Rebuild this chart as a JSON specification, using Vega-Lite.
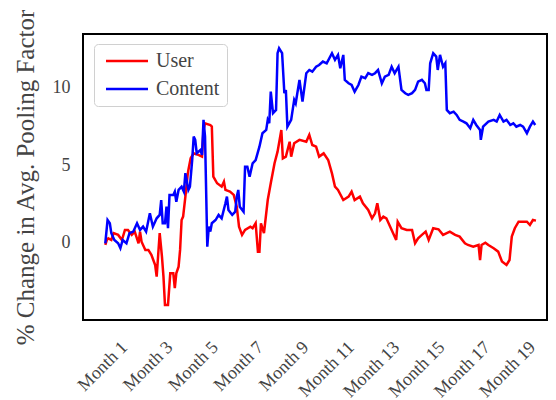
{
  "$schema": "https://vega.github.io/schema/vega-lite/v6.json",
  "width": 464,
  "height": 286,
  "autosize": {"type": "none"},
  "padding": {"left": 83, "top": 34, "right": 9, "bottom": 80},
  "config": {
    "view": {"stroke": "#000000", "strokeWidth": 2},
    "font": "Liberation Serif",
    "axis": {"labelFont": "Liberation Serif", "titleFont": "Liberation Serif", "labelColor": "#444444", "titleColor": "#444444", "grid": false, "ticks": false, "domain": false},
    "legend": {"labelFont": "Liberation Serif"}
  },
  "data": {"values": [
    {"d":0,"v":-0.13,"s":"User"},{"d":2,"v":0.19,"s":"User"},{"d":4,"v":0.30,"s":"User"},{"d":8,"v":0.19,"s":"User"},{"d":11,"v":0.63,"s":"User"},{"d":17,"v":0.52,"s":"User"},{"d":22,"v":0.19,"s":"User"},{"d":26,"v":0.84,"s":"User"},{"d":30,"v":0.84,"s":"User"},{"d":35,"v":0.52,"s":"User"},{"d":39,"v":0.73,"s":"User"},{"d":44,"v":-0.02,"s":"User"},{"d":46,"v":0.73,"s":"User"},{"d":48,"v":0.08,"s":"User"},{"d":53,"v":-0.45,"s":"User"},{"d":57,"v":-0.45,"s":"User"},{"d":61,"v":-0.77,"s":"User"},{"d":66,"v":-1.42,"s":"User"},{"d":68,"v":-2.17,"s":"User"},{"d":72,"v":0.63,"s":"User"},{"d":75,"v":-0.88,"s":"User"},{"d":77,"v":-2.17,"s":"User"},{"d":79,"v":-4.0,"s":"User"},{"d":83,"v":-4.0,"s":"User"},{"d":86,"v":-1.96,"s":"User"},{"d":90,"v":-1.96,"s":"User"},{"d":92,"v":-2.92,"s":"User"},{"d":94,"v":-1.96,"s":"User"},{"d":97,"v":-1.53,"s":"User"},{"d":99,"v":-0.45,"s":"User"},{"d":101,"v":1.48,"s":"User"},{"d":103,"v":1.70,"s":"User"},{"d":106,"v":2.99,"s":"User"},{"d":109,"v":4.39,"s":"User"},{"d":110,"v":4.71,"s":"User"},{"d":113,"v":5.46,"s":"User"},{"d":117,"v":5.78,"s":"User"},{"d":124,"v":5.67,"s":"User"},{"d":128,"v":5.57,"s":"User"},{"d":130,"v":7.29,"s":"User"},{"d":132,"v":7.72,"s":"User"},{"d":139,"v":7.61,"s":"User"},{"d":141,"v":7.51,"s":"User"},{"d":143,"v":4.28,"s":"User"},{"d":148,"v":3.85,"s":"User"},{"d":154,"v":3.63,"s":"User"},{"d":157,"v":3.95,"s":"User"},{"d":159,"v":3.42,"s":"User"},{"d":165,"v":3.31,"s":"User"},{"d":170,"v":3.10,"s":"User"},{"d":174,"v":2.34,"s":"User"},{"d":177,"v":1.05,"s":"User"},{"d":181,"v":0.52,"s":"User"},{"d":185,"v":0.84,"s":"User"},{"d":192,"v":1.05,"s":"User"},{"d":195,"v":0.95,"s":"User"},{"d":199,"v":1.27,"s":"User"},{"d":202,"v":-0.56,"s":"User"},{"d":204,"v":-0.56,"s":"User"},{"d":206,"v":1.27,"s":"User"},{"d":210,"v":0.63,"s":"User"},{"d":215,"v":2.77,"s":"User"},{"d":219,"v":3.85,"s":"User"},{"d":224,"v":5.14,"s":"User"},{"d":228,"v":5.89,"s":"User"},{"d":233,"v":7.29,"s":"User"},{"d":235,"v":5.46,"s":"User"},{"d":239,"v":5.57,"s":"User"},{"d":244,"v":6.53,"s":"User"},{"d":246,"v":5.57,"s":"User"},{"d":250,"v":6.43,"s":"User"},{"d":257,"v":6.65,"s":"User"},{"d":266,"v":6.53,"s":"User"},{"d":270,"v":6.97,"s":"User"},{"d":274,"v":6.32,"s":"User"},{"d":279,"v":6.21,"s":"User"},{"d":283,"v":5.57,"s":"User"},{"d":289,"v":5.78,"s":"User"},{"d":295,"v":5.35,"s":"User"},{"d":300,"v":4.49,"s":"User"},{"d":304,"v":3.63,"s":"User"},{"d":308,"v":3.42,"s":"User"},{"d":315,"v":2.77,"s":"User"},{"d":322,"v":2.99,"s":"User"},{"d":326,"v":3.31,"s":"User"},{"d":330,"v":2.77,"s":"User"},{"d":337,"v":2.99,"s":"User"},{"d":341,"v":2.56,"s":"User"},{"d":348,"v":2.13,"s":"User"},{"d":353,"v":1.59,"s":"User"},{"d":357,"v":1.91,"s":"User"},{"d":360,"v":2.56,"s":"User"},{"d":364,"v":1.48,"s":"User"},{"d":368,"v":1.70,"s":"User"},{"d":372,"v":1.59,"s":"User"},{"d":379,"v":0.84,"s":"User"},{"d":385,"v":0.19,"s":"User"},{"d":387,"v":1.37,"s":"User"},{"d":392,"v":0.95,"s":"User"},{"d":399,"v":0.84,"s":"User"},{"d":406,"v":0.84,"s":"User"},{"d":410,"v":-0.02,"s":"User"},{"d":414,"v":0.30,"s":"User"},{"d":419,"v":0.52,"s":"User"},{"d":424,"v":0.73,"s":"User"},{"d":428,"v":0.19,"s":"User"},{"d":434,"v":0.95,"s":"User"},{"d":441,"v":0.88,"s":"User"},{"d":447,"v":0.52,"s":"User"},{"d":456,"v":0.73,"s":"User"},{"d":463,"v":0.52,"s":"User"},{"d":469,"v":0.41,"s":"User"},{"d":476,"v":-0.02,"s":"User"},{"d":480,"v":-0.13,"s":"User"},{"d":487,"v":-0.24,"s":"User"},{"d":494,"v":-0.13,"s":"User"},{"d":496,"v":-1.10,"s":"User"},{"d":498,"v":-0.13,"s":"User"},{"d":503,"v":0.02,"s":"User"},{"d":507,"v":-0.13,"s":"User"},{"d":514,"v":-0.34,"s":"User"},{"d":520,"v":-0.56,"s":"User"},{"d":525,"v":-1.20,"s":"User"},{"d":531,"v":-1.42,"s":"User"},{"d":535,"v":-1.10,"s":"User"},{"d":538,"v":0.41,"s":"User"},{"d":542,"v":0.95,"s":"User"},{"d":547,"v":1.37,"s":"User"},{"d":551,"v":1.37,"s":"User"},{"d":558,"v":1.37,"s":"User"},{"d":562,"v":1.16,"s":"User"},{"d":566,"v":1.48,"s":"User"},{"d":570,"v":1.44,"s":"User"},
    {"d":0,"v":-0.02,"s":"Content"},{"d":3,"v":1.48,"s":"Content"},{"d":6,"v":1.27,"s":"Content"},{"d":8,"v":0.63,"s":"Content"},{"d":12,"v":0.19,"s":"Content"},{"d":17,"v":-0.02,"s":"Content"},{"d":20,"v":-0.34,"s":"Content"},{"d":23,"v":0.19,"s":"Content"},{"d":28,"v":-0.02,"s":"Content"},{"d":32,"v":0.63,"s":"Content"},{"d":37,"v":0.73,"s":"Content"},{"d":42,"v":1.27,"s":"Content"},{"d":46,"v":0.84,"s":"Content"},{"d":50,"v":1.05,"s":"Content"},{"d":54,"v":0.73,"s":"Content"},{"d":59,"v":1.92,"s":"Content"},{"d":63,"v":1.05,"s":"Content"},{"d":68,"v":1.59,"s":"Content"},{"d":72,"v":1.81,"s":"Content"},{"d":74,"v":2.77,"s":"Content"},{"d":76,"v":1.27,"s":"Content"},{"d":79,"v":1.27,"s":"Content"},{"d":81,"v":2.34,"s":"Content"},{"d":83,"v":0.95,"s":"Content"},{"d":85,"v":3.10,"s":"Content"},{"d":90,"v":3.10,"s":"Content"},{"d":92,"v":3.31,"s":"Content"},{"d":94,"v":2.66,"s":"Content"},{"d":97,"v":3.42,"s":"Content"},{"d":101,"v":3.63,"s":"Content"},{"d":104,"v":3.31,"s":"Content"},{"d":106,"v":4.50,"s":"Content"},{"d":110,"v":3.42,"s":"Content"},{"d":112,"v":3.63,"s":"Content"},{"d":115,"v":5.35,"s":"Content"},{"d":117,"v":6.86,"s":"Content"},{"d":119,"v":6.65,"s":"Content"},{"d":121,"v":5.79,"s":"Content"},{"d":126,"v":6.00,"s":"Content"},{"d":128,"v":5.68,"s":"Content"},{"d":130,"v":7.94,"s":"Content"},{"d":132,"v":6.86,"s":"Content"},{"d":135,"v":-0.24,"s":"Content"},{"d":137,"v":1.05,"s":"Content"},{"d":139,"v":0.73,"s":"Content"},{"d":141,"v":1.27,"s":"Content"},{"d":146,"v":1.48,"s":"Content"},{"d":150,"v":1.81,"s":"Content"},{"d":154,"v":1.59,"s":"Content"},{"d":159,"v":2.56,"s":"Content"},{"d":161,"v":2.99,"s":"Content"},{"d":163,"v":2.13,"s":"Content"},{"d":168,"v":1.81,"s":"Content"},{"d":172,"v":2.02,"s":"Content"},{"d":174,"v":2.99,"s":"Content"},{"d":176,"v":3.42,"s":"Content"},{"d":178,"v":2.34,"s":"Content"},{"d":183,"v":2.02,"s":"Content"},{"d":185,"v":4.92,"s":"Content"},{"d":188,"v":4.92,"s":"Content"},{"d":191,"v":4.28,"s":"Content"},{"d":195,"v":5.14,"s":"Content"},{"d":199,"v":5.35,"s":"Content"},{"d":204,"v":6.21,"s":"Content"},{"d":208,"v":7.08,"s":"Content"},{"d":213,"v":7.29,"s":"Content"},{"d":215,"v":7.94,"s":"Content"},{"d":217,"v":7.72,"s":"Content"},{"d":219,"v":9.76,"s":"Content"},{"d":222,"v":8.37,"s":"Content"},{"d":226,"v":8.58,"s":"Content"},{"d":228,"v":12.24,"s":"Content"},{"d":230,"v":12.56,"s":"Content"},{"d":234,"v":12.24,"s":"Content"},{"d":237,"v":9.66,"s":"Content"},{"d":239,"v":9.87,"s":"Content"},{"d":241,"v":7.50,"s":"Content"},{"d":246,"v":7.94,"s":"Content"},{"d":250,"v":9.23,"s":"Content"},{"d":252,"v":9.01,"s":"Content"},{"d":257,"v":10.52,"s":"Content"},{"d":261,"v":9.12,"s":"Content"},{"d":266,"v":10.95,"s":"Content"},{"d":270,"v":11.16,"s":"Content"},{"d":274,"v":11.05,"s":"Content"},{"d":279,"v":11.37,"s":"Content"},{"d":283,"v":11.48,"s":"Content"},{"d":288,"v":11.70,"s":"Content"},{"d":293,"v":11.59,"s":"Content"},{"d":300,"v":12.24,"s":"Content"},{"d":304,"v":11.81,"s":"Content"},{"d":308,"v":12.13,"s":"Content"},{"d":311,"v":11.27,"s":"Content"},{"d":315,"v":12.13,"s":"Content"},{"d":317,"v":10.52,"s":"Content"},{"d":322,"v":10.30,"s":"Content"},{"d":326,"v":10.19,"s":"Content"},{"d":330,"v":9.76,"s":"Content"},{"d":335,"v":10.19,"s":"Content"},{"d":339,"v":10.73,"s":"Content"},{"d":344,"v":10.63,"s":"Content"},{"d":348,"v":10.95,"s":"Content"},{"d":353,"v":10.84,"s":"Content"},{"d":357,"v":10.95,"s":"Content"},{"d":361,"v":11.16,"s":"Content"},{"d":366,"v":10.30,"s":"Content"},{"d":370,"v":10.73,"s":"Content"},{"d":375,"v":10.84,"s":"Content"},{"d":379,"v":11.37,"s":"Content"},{"d":383,"v":10.95,"s":"Content"},{"d":388,"v":11.37,"s":"Content"},{"d":392,"v":9.87,"s":"Content"},{"d":397,"v":9.66,"s":"Content"},{"d":401,"v":9.55,"s":"Content"},{"d":406,"v":9.66,"s":"Content"},{"d":410,"v":9.87,"s":"Content"},{"d":414,"v":10.41,"s":"Content"},{"d":419,"v":10.52,"s":"Content"},{"d":423,"v":10.30,"s":"Content"},{"d":425,"v":9.87,"s":"Content"},{"d":428,"v":9.87,"s":"Content"},{"d":430,"v":11.59,"s":"Content"},{"d":434,"v":12.24,"s":"Content"},{"d":438,"v":12.02,"s":"Content"},{"d":440,"v":11.16,"s":"Content"},{"d":443,"v":12.13,"s":"Content"},{"d":447,"v":11.37,"s":"Content"},{"d":450,"v":11.59,"s":"Content"},{"d":452,"v":8.58,"s":"Content"},{"d":456,"v":8.37,"s":"Content"},{"d":461,"v":8.47,"s":"Content"},{"d":465,"v":8.26,"s":"Content"},{"d":469,"v":7.94,"s":"Content"},{"d":474,"v":7.83,"s":"Content"},{"d":478,"v":7.72,"s":"Content"},{"d":483,"v":7.40,"s":"Content"},{"d":487,"v":7.94,"s":"Content"},{"d":491,"v":7.61,"s":"Content"},{"d":496,"v":7.29,"s":"Content"},{"d":497,"v":6.65,"s":"Content"},{"d":500,"v":7.50,"s":"Content"},{"d":507,"v":7.83,"s":"Content"},{"d":514,"v":7.94,"s":"Content"},{"d":518,"v":7.83,"s":"Content"},{"d":522,"v":8.26,"s":"Content"},{"d":527,"v":7.83,"s":"Content"},{"d":531,"v":7.94,"s":"Content"},{"d":536,"v":7.61,"s":"Content"},{"d":540,"v":7.72,"s":"Content"},{"d":544,"v":7.50,"s":"Content"},{"d":549,"v":7.61,"s":"Content"},{"d":553,"v":7.50,"s":"Content"},{"d":558,"v":7.08,"s":"Content"},{"d":562,"v":7.50,"s":"Content"},{"d":566,"v":7.83,"s":"Content"},{"d":569,"v":7.61,"s":"Content"}
  ]},
  "mark": {"type": "line", "strokeWidth": 2.5, "clip": true},
  "encoding": {
    "x": {
      "field": "d", "type": "quantitative",
      "scale": {"domain": [-29.5, 584.6], "nice": false, "zero": false},
      "axis": {"title": null, "values": [30, 90, 150, 210, 270, 330, 390, 450, 510, 570], "labelExpr": "'Month ' + (datum.value / 30)", "labelAngle": -45, "labelAlign": "right", "labelBaseline": "top", "labelFontSize": 18, "labelPadding": 18, "labelOffset": -10, "labelOverlap": false, "labelBound": false, "labelFlush": false}
    },
    "y": {
      "field": "v", "type": "quantitative",
      "scale": {"domain": [-4.97, 13.48], "nice": false, "zero": false},
      "axis": {"title": "% Change in Avg. Pooling Factor", "values": [0, 5, 10], "labelFontSize": 18, "labelPadding": 13, "titleFontSize": 25, "titleFontWeight": "normal", "titlePadding": 14}
    },
    "color": {
      "field": "s", "type": "nominal",
      "scale": {"domain": ["User", "Content"], "range": ["#ff0000", "#0000ff"]},
      "legend": {"title": null, "orient": "none", "legendX": 11, "legendY": 10, "symbolType": "M-1,0H7.4", "symbolSize": 100, "symbolStrokeWidth": 2.5, "labelFontSize": 20, "labelColor": "#444444", "strokeColor": "#d0d0d0", "fillColor": "#ffffff", "cornerRadius": 4, "padding": 7, "rowPadding": 8, "labelOffset": 35}
    },
    "order": {"field": "d", "type": "quantitative"}
  }
}
